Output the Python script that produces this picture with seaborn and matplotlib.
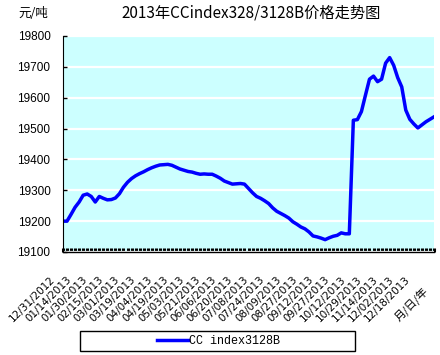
import numpy as np
import pandas as pd
import matplotlib
matplotlib.use('Agg')
import matplotlib.pyplot as plt
import matplotlib.transforms as mtransforms
from matplotlib.patches import Rectangle
from matplotlib.ticker import MultipleLocator
import seaborn as sns

# tick dates shown under the axis (every 4th point)
date_labels = [
    '12/31/2012', '01/14/2013', '01/30/2013', '02/15/2013', '03/01/2013',
    '03/19/2013', '04/04/2013', '04/19/2013', '05/03/2013', '05/21/2013',
    '06/06/2013', '06/20/2013', '07/08/2013', '07/24/2013', '08/09/2013',
    '08/27/2013', '09/12/2013', '09/27/2013', '10/12/2013', '10/29/2013',
    '11/14/2013', '12/02/2013', '12/18/2013',
]

# index price, yuan/ton
prices = [
    19200, 19200, 19222, 19245, 19262, 19284, 19288, 19280, 19262, 19280,
    19274, 19269, 19270, 19275, 19289, 19310, 19326, 19338, 19347, 19354,
    19360, 19367, 19373, 19378, 19382, 19383, 19384, 19381, 19375, 19369,
    19365, 19361, 19359, 19355, 19352, 19353, 19352, 19352, 19346, 19339,
    19330, 19325, 19320, 19321, 19322, 19320, 19306, 19292, 19280, 19274,
    19266, 19257, 19243, 19232, 19225, 19218, 19210, 19198, 19190, 19181,
    19175, 19165, 19152, 19149, 19145, 19140, 19146, 19151, 19154, 19162,
    19159, 19159, 19527, 19529, 19555, 19608, 19660, 19670, 19652, 19660,
    19712, 19730, 19705, 19665, 19635, 19560, 19530, 19515, 19502, 19512,
    19522, 19530, 19538,
]

df = pd.DataFrame({'idx': np.arange(len(prices)), 'price': prices})

fig = plt.figure(figsize=(4.4, 3.55), dpi=100)
ax = fig.add_axes([63 / 440, 1 - 252 / 355, 371 / 440, 216 / 355])
ax.set_facecolor('#CCFFFF')

sns.lineplot(data=df, x='idx', y='price', color='#0000FF', linewidth=2.5,
             ax=ax, label='CC index3128B', legend=False)

ax.set_xlim(0, len(prices) - 1)
ax.set_ylim(19100, 19800)
ax.set_yticks(range(19100, 19801, 100))
ax.grid(axis='y', color='white', linewidth=1.6)
ax.set_axisbelow(True)
for s in ['top', 'right']:
    ax.spines[s].set_visible(False)
ax.spines['left'].set_color('black')
ax.spines['bottom'].set_color('black')
ax.spines['bottom'].set_linewidth(1.0)

ax.set_xticks(np.arange(len(date_labels)) * 4)
ax.set_xticklabels(date_labels, rotation=45, ha='right', va='top',
                   rotation_mode='anchor', fontsize=7.5, family='DejaVu Sans')
ax.xaxis.set_minor_locator(MultipleLocator(1))
ax.tick_params(axis='x', which='both', direction='in', length=3, width=2.2, pad=8)
ax.tick_params(axis='y', direction='in', length=3, width=1, labelsize=8.5, pad=9)
for lab in ax.get_yticklabels():
    lab.set_family('Liberation Sans')

# shift date labels down-left like the original
offset = mtransforms.ScaledTranslation(-13 / 100, -11 / 100, fig.dpi_scale_trans)
for lab in ax.get_xticklabels():
    lab.set_transform(lab.get_transform() + offset)

ax.set_xlabel('')
ax.set_ylabel('')

cjk = ['Noto Sans CJK SC', 'DejaVu Sans']
fig.text(0.57, 0.963, '2013年CCindex328/3128B价格走势图', ha='center', va='center',
         fontsize=11, family=cjk)
fig.text(0.075, 0.963, '元/吨', ha='center', va='center', fontsize=9, family=cjk)
fig.text(0.935, 0.145, '月/日/年', ha='center', va='center', rotation=45,
         fontsize=8, family=cjk)

# legend with a wide frame
fig.patches.append(Rectangle((80 / 440, 1 - 351 / 355), 275 / 440, 20 / 355,
                             transform=fig.transFigure, facecolor='white',
                             edgecolor='black', linewidth=1.0))
handles, labels = ax.get_legend_handles_labels()
leg = fig.legend(handles, labels, loc='center', bbox_to_anchor=(0.497, 0.040),
                 frameon=False, handlelength=2.6, handletextpad=0.1,
                 prop={'family': 'Liberation Mono', 'size': 8.5})

plt.savefig('out.png', dpi=100)
